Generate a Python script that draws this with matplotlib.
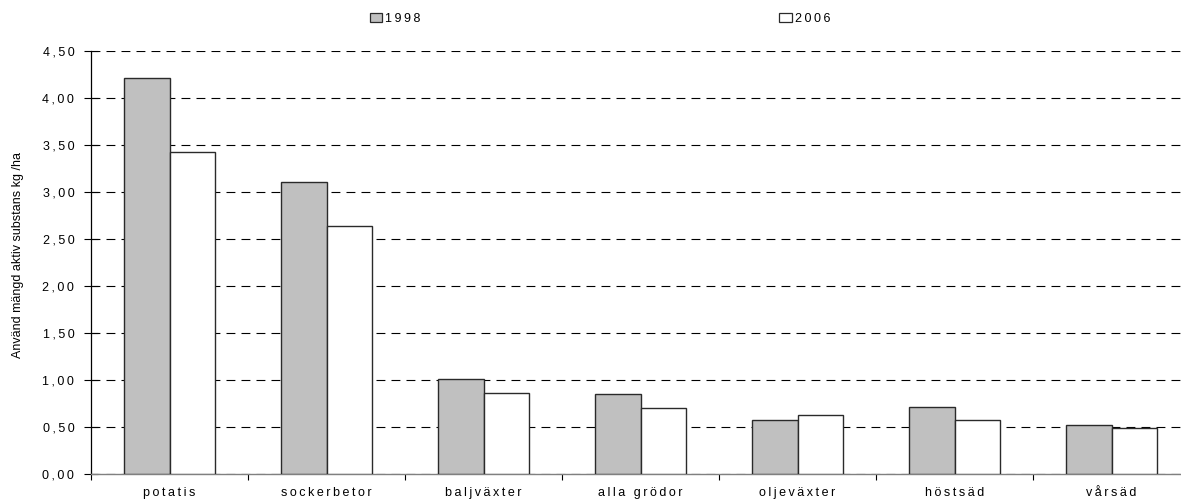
import numpy as np
import matplotlib
matplotlib.use("Agg")
import matplotlib.pyplot as plt
from matplotlib.patches import Patch
from matplotlib.ticker import FixedLocator

plt.rcParams['font.family'] = ['Liberation Sans', 'DejaVu Sans']

# data
categories = ['potatis', 'sockerbetor', 'baljväxter', 'alla grödor',
              'oljeväxter', 'höstsäd', 'vårsäd']
v1998 = [4.22, 3.11, 1.01, 0.85, 0.58, 0.72, 0.52]
v2006 = [3.43, 2.64, 0.86, 0.71, 0.63, 0.58, 0.49]
yticks = [0.0, 0.5, 1.0, 1.5, 2.0, 2.5, 3.0, 3.5, 4.0, 4.5]

SP = '\u2009'  # thin space, letter spacing like the original

def spaced(s):
    return SP.join(list(s))

fig = plt.figure(figsize=(11.81, 5.0), dpi=100)
ax = fig.add_axes([91 / 1181, 25.7 / 500, 1099 / 1181, 423 / 500])

x = np.arange(len(categories))
w = 0.289
ax.bar(x - w / 2, v1998, w, color='#c0c0c0', edgecolor='#2a2a2a', linewidth=1.0, zorder=3)
ax.bar(x + w / 2, v2006, w, color='white', edgecolor='#2a2a2a', linewidth=1.0, zorder=3)

ax.set_xlim(-0.5, len(categories) - 0.5)
ax.set_ylim(0, 4.5)

ax.set_yticks(yticks)
ax.set_yticklabels([spaced(f'{t:.2f}'.replace('.', ',')) for t in yticks], fontsize=9)
ax.yaxis.grid(True, linestyle=(0, (8, 5.5)), color='black', linewidth=0.8, zorder=0)
ax.tick_params(axis='y', length=10, width=0.8, pad=7, direction='inout')

ax.set_xticks(x)
ax.set_xticklabels([spaced(c) for c in categories], fontsize=9)
ax.tick_params(axis='x', which='major', length=0, pad=9)
ax.xaxis.set_minor_locator(FixedLocator(np.arange(-0.5, len(categories), 1.0)))
ax.tick_params(axis='x', which='minor', length=4, width=0.8, direction='out', color='black')

for s in ['top', 'right']:
    ax.spines[s].set_visible(False)
ax.spines['left'].set_color('black')
ax.spines['left'].set_linewidth(0.9)
ax.spines['bottom'].set_color('#808080')
ax.spines['bottom'].set_linewidth(1.0)

fig.text(18 / 1181, 1 - 255 / 500, 'Använd mängd aktiv substans kg /ha',
         rotation=90, ha='center', va='center', fontsize=9)

h1 = Patch(facecolor='#c0c0c0', edgecolor='#2a2a2a', linewidth=0.9)
h2 = Patch(facecolor='white', edgecolor='#2a2a2a', linewidth=0.9)
for h, lab, xc in [(h1, '1998', 395 / 1181), (h2, '2006', 805 / 1181)]:
    fig.legend([h], [spaced(lab)], loc='center', bbox_to_anchor=(xc, 1 - 19 / 500),
               frameon=False, fontsize=9, handlelength=1.0, handleheight=0.7,
               handletextpad=0.25, borderpad=0)

fig.savefig('out.png', dpi=100)
